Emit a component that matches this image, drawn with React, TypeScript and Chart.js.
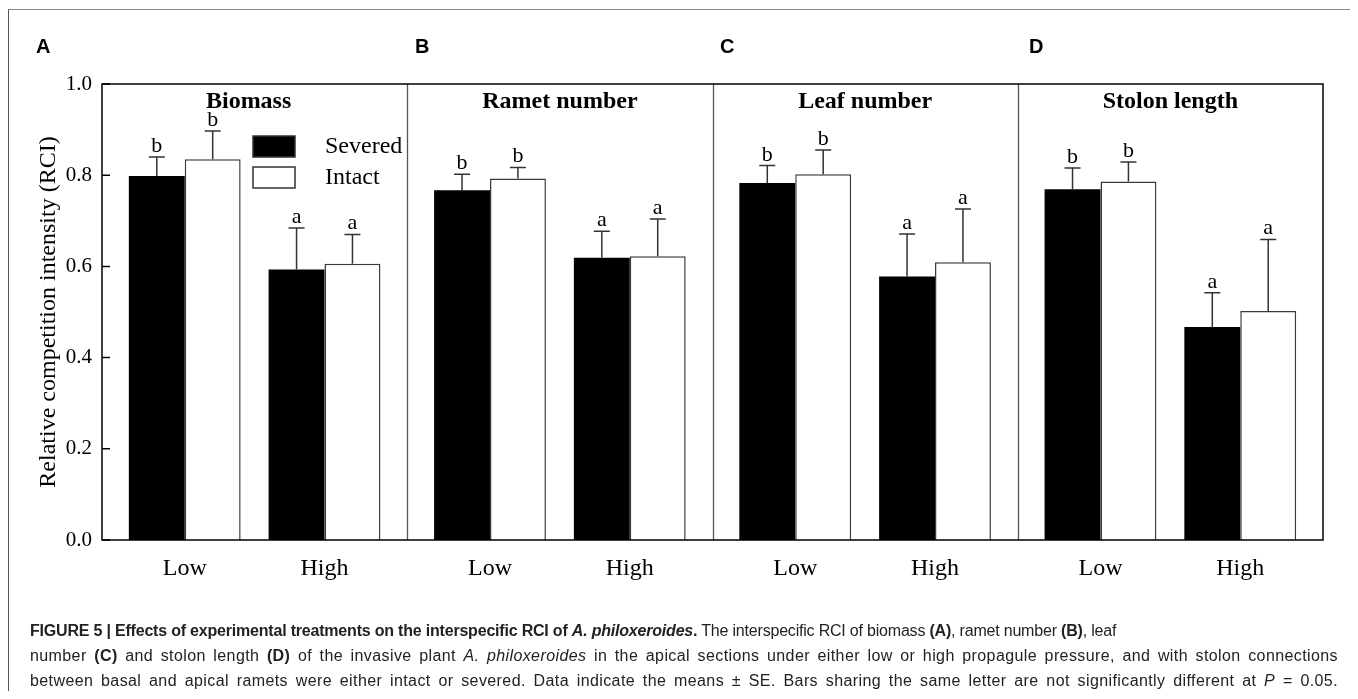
import React, { useEffect, useRef } from 'react';
import { Chart, registerables } from 'chart.js';

Chart.register(...registerables);

// ---- data ----
const panelTitles = ['Biomass', 'Ramet number', 'Leaf number', 'Stolon length'];
const panelLetters = ['A', 'B', 'C', 'D'];
const pressureLevels = ['Low', 'High'];
const seriesNames = ['Severed', 'Intact'];
// order: panel A Low, High, panel B Low, High, panel C Low, High, panel D Low, High
const severedMean = [0.798, 0.593, 0.767, 0.619, 0.783, 0.578, 0.769, 0.467];
const severedSE = [0.042, 0.091, 0.035, 0.058, 0.038, 0.093, 0.047, 0.075];
const intactMean = [0.835, 0.606, 0.793, 0.622, 0.802, 0.609, 0.786, 0.502];
const intactSE = [0.062, 0.064, 0.024, 0.082, 0.053, 0.117, 0.043, 0.157];
const severedLetters = ['b', 'a', 'b', 'a', 'b', 'a', 'b', 'a'];
const intactLetters = ['b', 'a', 'b', 'a', 'b', 'a', 'b', 'a'];
const yTickValues = [0, 0.2, 0.4, 0.6, 0.8, 1.0];

// ---- layout constants ----
const PANEL_SPAN = 2.184;
const PAD = (PANEL_SPAN - 1) / 2;
const SERIF = '"Liberation Serif", "Times New Roman", serif';
const SANS = '"Liberation Sans", Arial, Helvetica, sans-serif';

const positions = severedMean.map((_, i) => Math.floor(i / 2) * PANEL_SPAN + (i % 2));

const figurePlugin = {
  id: 'figurePlugin',
  afterDatasetsDraw(chart: any) {
    const { ctx, chartArea: ca, scales } = chart;
    const x = scales.x;
    const y = scales.y;
    const means = [severedMean, intactMean];
    const ses = [severedSE, intactSE];
    const letters = [severedLetters, intactLetters];
    ctx.save();

    // error bars + letters
    chart.data.datasets.forEach((_ds: any, di: number) => {
      const meta = chart.getDatasetMeta(di);
      meta.data.forEach((bar: any, j: number) => {
        const top = y.getPixelForValue(means[di][j] + ses[di][j]);
        ctx.strokeStyle = '#333';
        ctx.lineWidth = 1.5;
        ctx.beginPath();
        ctx.moveTo(bar.x, bar.y);
        ctx.lineTo(bar.x, top);
        ctx.moveTo(bar.x - 8, top);
        ctx.lineTo(bar.x + 8, top);
        ctx.stroke();
        ctx.fillStyle = '#000';
        ctx.font = `22px ${SERIF}`;
        ctx.textAlign = 'center';
        ctx.textBaseline = 'alphabetic';
        ctx.fillText(letters[di][j], bar.x, top - 5);
      });
    });

    // panel dividers
    ctx.strokeStyle = '#555';
    ctx.lineWidth = 1.3;
    for (let p = 1; p < panelTitles.length; p++) {
      const px = Math.round(x.getPixelForValue(p * PANEL_SPAN - PAD)) + 0.5;
      ctx.beginPath();
      ctx.moveTo(px, ca.top);
      ctx.lineTo(px, ca.bottom);
      ctx.stroke();
    }

    // plot frame
    ctx.strokeStyle = '#000';
    ctx.lineWidth = 1.5;
    ctx.strokeRect(ca.left, ca.top, ca.right - ca.left, ca.bottom - ca.top);

    // inward y ticks
    ctx.beginPath();
    y.ticks.forEach((t: any) => {
      const py = y.getPixelForValue(t.value);
      ctx.moveTo(ca.left, py);
      ctx.lineTo(ca.left + 8, py);
    });
    ctx.stroke();

    // panel titles
    ctx.fillStyle = '#000';
    ctx.font = `bold 24px ${SERIF}`;
    ctx.textAlign = 'center';
    ctx.textBaseline = 'alphabetic';
    panelTitles.forEach((t, p) => {
      const l = x.getPixelForValue(p * PANEL_SPAN - PAD);
      const r = x.getPixelForValue(p * PANEL_SPAN + 1 + PAD);
      const shift = p === 0 ? -6 : 0;
      ctx.fillText(t, (l + r) / 2 + shift, ca.top + 24);
    });

    // legend (inside panel A)
    const lx = 253;
    const ly = 136;
    chart.data.datasets.forEach((ds: any, di: number) => {
      const by = ly + di * 31;
      ctx.fillStyle = ds.backgroundColor;
      ctx.fillRect(lx, by, 42, 21);
      ctx.strokeStyle = '#333';
      ctx.lineWidth = 1.5;
      ctx.strokeRect(lx, by, 42, 21);
      ctx.fillStyle = '#000';
      ctx.font = `24px ${SERIF}`;
      ctx.textAlign = 'left';
      ctx.textBaseline = 'middle';
      ctx.fillText(ds.label, lx + 72, by + 11);
    });

    ctx.restore();
  },
};

export default function App() {
  const ref = useRef<HTMLCanvasElement>(null);

  useEffect(() => {
    const prevOverflow = document.body.style.overflow;
    document.body.style.overflow = 'hidden';
    const chart = new Chart(ref.current as HTMLCanvasElement, {
      type: 'bar',
      data: {
        datasets: [
          {
            label: seriesNames[0],
            data: severedMean.map((v, i) => ({ x: positions[i], y: v })),
            backgroundColor: '#000',
            borderColor: '#000',
            borderWidth: 0,
            categoryPercentage: 0.8,
            barPercentage: 1,
          },
          {
            label: seriesNames[1],
            data: intactMean.map((v, i) => ({ x: positions[i], y: v })),
            backgroundColor: '#fff',
            borderColor: '#3a3a3a',
            borderWidth: 1.5,
            borderSkipped: 'bottom',
            categoryPercentage: 0.8,
            barPercentage: 1,
          },
        ],
      } as any,
      options: {
        responsive: false,
        animation: false,
        events: [],
        layout: { padding: { left: 0, top: 84, right: 35, bottom: 0 } },
        plugins: {
          legend: { display: false },
          tooltip: { enabled: false },
          title: { display: false },
        },
        scales: {
          x: {
            type: 'linear',
            min: -PAD,
            max: (panelTitles.length - 1) * PANEL_SPAN + 1 + PAD,
            offset: false,
            bounds: 'data',
            grid: { display: false, drawTicks: false, offset: false },
            border: { display: false },
            afterBuildTicks: (s: any) => {
              s.ticks = positions.map((v) => ({ value: v }));
            },
            afterFit: (s: any) => {
              s.height = 80;
            },
            ticks: {
              autoSkip: false,
              maxRotation: 0,
              padding: 14,
              color: '#000',
              font: { family: SERIF, size: 24 },
              callback: (_v: any, i: number) => pressureLevels[i % 2],
            },
          },
          y: {
            min: 0,
            max: 1,
            grid: { display: false, drawTicks: false },
            border: { display: false },
            afterBuildTicks: (s: any) => {
              s.ticks = yTickValues.map((v) => ({ value: v }));
            },
            afterFit: (s: any) => {
              s.width = 102;
            },
            ticks: {
              padding: 10,
              color: '#000',
              font: { family: SERIF, size: 21 },
              callback: (v: any) => Number(v).toFixed(1),
            },
            title: {
              display: true,
              text: 'Relative competition intensity (RCI)',
              color: '#000',
              font: { family: SERIF, size: 24 },
              padding: { top: 34, bottom: 0 },
            },
          },
        },
      } as any,
      plugins: [figurePlugin],
    });
    return () => {
      chart.destroy();
      document.body.style.overflow = prevOverflow;
    };
  }, []);

  const letterX = [36, 415, 720, 1029];

  return (
    <div style={{ position: 'relative', width: 1342, height: 683 }}>
      <div
        style={{
          position: 'absolute',
          left: 0,
          top: 1,
          width: 1349,
          height: 690,
          boxSizing: 'border-box',
          borderLeft: '1px solid #555',
          borderTop: '1px solid #888',
          borderRight: '2px solid #888',
        }}
      />
      <canvas
        ref={ref}
        width={1358}
        height={620}
        style={{ position: 'absolute', left: -8, top: -8, width: 1358, height: 620 }}
      />
      {panelLetters.map((l, i) => (
        <div
          key={l}
          style={{
            position: 'absolute',
            left: letterX[i] - 8,
            top: 36 - 8,
            fontFamily: SANS,
            fontWeight: 'bold',
            fontSize: 20,
            lineHeight: '20px',
            color: '#000',
          }}
        >
          {l}
        </div>
      ))}
      <div
        style={{
          position: 'absolute',
          left: 22,
          top: 610,
          fontFamily: SANS,
          fontSize: 16,
          lineHeight: '25px',
          color: '#222',
        }}
      >
        <div style={{ whiteSpace: 'nowrap', letterSpacing: '-0.2px' }}>
          <b>
            FIGURE 5 | Effects of experimental treatments on the interspecific RCI of <i>A. philoxeroides</i>.
          </b>{' '}
          The interspecific RCI of biomass <b>(A)</b>, ramet number <b>(B)</b>, leaf
        </div>
        <div
          style={{
            whiteSpace: 'nowrap',
            width: 1308,
            textAlign: 'justify',
            textAlignLast: 'justify',
            letterSpacing: '0.4px',
          }}
        >
          number <b>(C)</b> and stolon length <b>(D)</b> of the invasive plant <i>A. philoxeroides</i> in the apical sections
          under either low or high propagule pressure, and with stolon connections
        </div>
        <div
          style={{
            whiteSpace: 'nowrap',
            width: 1308,
            textAlign: 'justify',
            textAlignLast: 'justify',
            letterSpacing: '0.4px',
          }}
        >
          between basal and apical ramets were either intact or severed. Data indicate the means ± SE. Bars sharing the
          same letter are not significantly different at <i>P</i> = 0.05.
        </div>
      </div>
    </div>
  );
}
